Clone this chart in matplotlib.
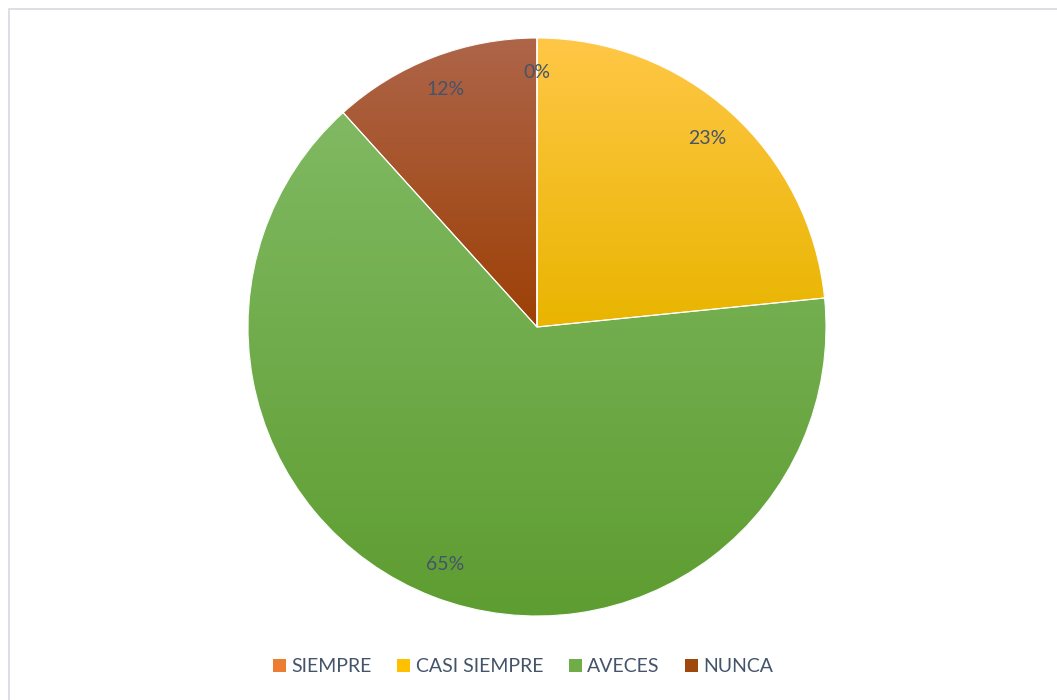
import numpy as np
import matplotlib
matplotlib.use("Agg")
import matplotlib.pyplot as plt
from matplotlib.colors import LinearSegmentedColormap
from matplotlib.patches import Rectangle

categorias = ["SIEMPRE", "CASI SIEMPRE", "AVECES", "NUNCA"]
porcentajes = [0, 23.4, 64.9, 11.7]

# colores: base, arriba, abajo (degradado vertical tipo Office)
color_base = ["#ed7d31", "#ffc000", "#70ad47", "#9e480e"]
color_arriba = ["#f4925a", "#ffc746", "#80b962", "#ae6549"]
color_abajo = ["#e66c12", "#e9b500", "#5e9d31", "#9d4006"]
texto = "#44546a"

plt.rcParams["font.family"] = ["Lato", "DejaVu Sans"]

fig = plt.figure(figsize=(10.57, 7.0), dpi=100)
W, H = 1057, 700
cx, cy, r = 537, 327, 289
ax = fig.add_axes([(cx - r) / W, (H - cy - r) / H, 2 * r / W, 2 * r / H])

wedges, _ = ax.pie(porcentajes, startangle=90, counterclock=False,
                   colors=color_base, radius=1,
                   wedgeprops=dict(linewidth=0, edgecolor="none"))

# degradado dentro de cada porcion
for w, c1, c2 in zip(wedges, color_arriba, color_abajo):
    if abs(w.theta2 - w.theta1) < 1e-6:
        continue
    t = np.radians(np.linspace(w.theta1, w.theta2, 200))
    ys = np.concatenate([[0], np.sin(t) * w.r])
    xs = np.concatenate([[0], np.cos(t) * w.r])
    cmap = LinearSegmentedColormap.from_list("g", [c2, c1])
    grad = np.linspace(0, 1, 256).reshape(-1, 1)
    im = ax.imshow(grad, cmap=cmap, origin="lower", aspect="auto",
                   extent=[xs.min(), xs.max(), ys.min(), ys.max()],
                   zorder=1.5, interpolation="bilinear")
    im.set_clip_path(w)

# bordes blancos finos
ax.pie(porcentajes, startangle=90, counterclock=False, radius=1,
       wedgeprops=dict(facecolor="none", edgecolor="white", linewidth=0.8, zorder=2))

# etiquetas de porcentaje
for w, p in zip(wedges, porcentajes):
    ang = np.radians((w.theta1 + w.theta2) / 2)
    ax.text(0.88 * np.cos(ang), 0.88 * np.sin(ang), f"{round(p)}%", ha="center", va="center",
            fontsize=14, color=texto, zorder=3)

ax.set_xlim(-1, 1)
ax.set_ylim(-1, 1)
ax.set_aspect("equal")
ax.axis("off")

leg = fig.legend(wedges, categorias, loc="center", bbox_to_anchor=(0.495, (H - 667) / H),
                 ncol=4, frameon=False, fontsize=14, handlelength=0.68, handleheight=0.68,
                 handletextpad=0.28, columnspacing=1.3)
for t in leg.get_texts():
    t.set_color(texto)

# marco del grafico
fig.add_artist(Rectangle((8.5 / W, -0.1), 1.2, 1.1 - 9.5 / H, transform=fig.transFigure,
                         fill=False, edgecolor="#d9dde3", linewidth=1.3))

fig.savefig("out.png", dpi=100, facecolor="white")
